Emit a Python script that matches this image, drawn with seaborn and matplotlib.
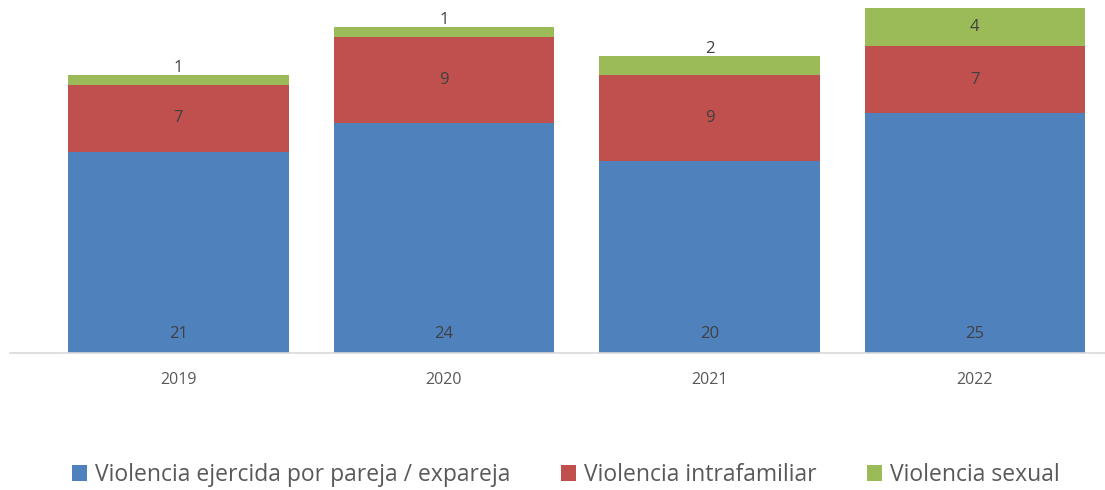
import matplotlib
matplotlib.use("Agg")
import matplotlib.pyplot as plt
from matplotlib.patches import Patch
import numpy as np
import pandas as pd
import seaborn as sns

years = ["2019", "2020", "2021", "2022"]
pareja = [21, 24, 20, 25]
intrafamiliar = [7, 9, 9, 7]
sexual = [1, 1, 2, 4]

series_names = ["Violencia ejercida por pareja / expareja",
                "Violencia intrafamiliar",
                "Violencia sexual"]
colors = ["#4F81BD", "#C0504D", "#9BBB59"]

sns.set_theme(style="white")
plt.rcParams["font.family"] = ["Open Sans", "DejaVu Sans"]

fig = plt.figure(figsize=(11.05, 4.90), dpi=100)
ax = fig.add_axes([10 / 1105, 137 / 490, 1095 / 1105, 350 / 490])

df = pd.DataFrame({"year": years, "pareja": pareja,
                   "intrafamiliar": intrafamiliar, "sexual": sexual})
cols = ["pareja", "intrafamiliar", "sexual"]

bottom = np.zeros(len(years))
for col, color in zip(cols, colors):
    sns.barplot(data=df, x="year", y=col, order=years, color=color,
                bottom=bottom, width=0.83, ax=ax, saturation=1,
                edgecolor="none", linewidth=0)
    bottom = bottom + df[col].to_numpy()

# value labels
label_color = "#404040"
for i, y in enumerate(years):
    b, r, g = pareja[i], intrafamiliar[i], sexual[i]
    ax.text(i, 2.0, str(b), ha="center", va="center", fontsize=12, color=label_color)
    ax.text(i, b + r / 2, str(r), ha="center", va="center", fontsize=12, color=label_color)
    top = b + r + g
    gy = b + r + g / 2 if g >= 3 else top + 0.75
    ax.text(i, gy, str(g), ha="center", va="center", fontsize=12, color=label_color)

ax.set_xlim(-0.634, 3.49)
ax.set_ylim(0, 36.5)
ax.set_xlabel("")
ax.set_ylabel("")
ax.set_yticks([])
ax.tick_params(axis="x", length=0, pad=14, labelsize=11.5, labelcolor="#595959")
for s in ["top", "right", "left"]:
    ax.spines[s].set_visible(False)
ax.spines["bottom"].set_color("#D9D9D9")
ax.spines["bottom"].set_linewidth(1.2)

handles = [Patch(facecolor=c, edgecolor="none") for c in colors]
fig.legend(handles, series_names, loc="center", bbox_to_anchor=(0.512, 1 - 475 / 490),
           ncol=3, frameon=False, fontsize=16.5, labelcolor="#595959",
           handlelength=0.65, handleheight=0.65, handletextpad=0.35, columnspacing=2.2)

fig.savefig("out.png", dpi=100)
